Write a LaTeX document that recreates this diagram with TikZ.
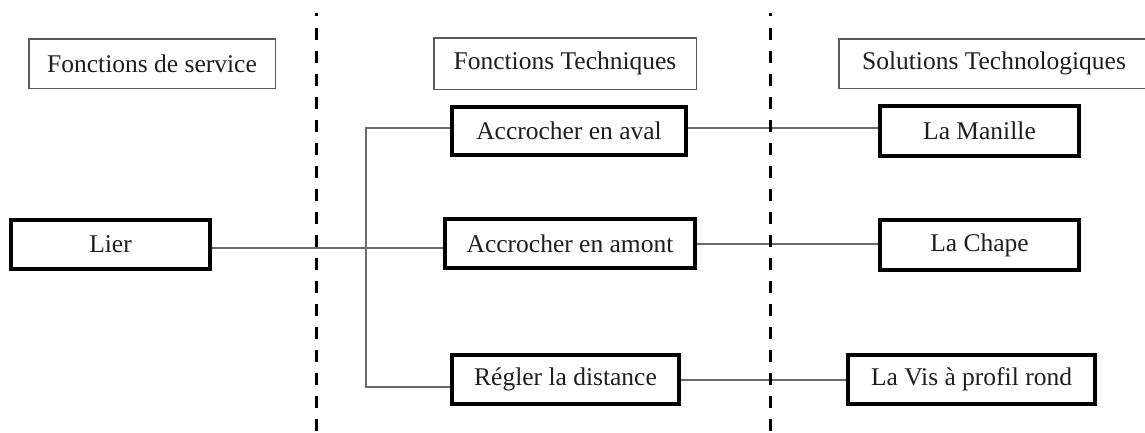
\documentclass[tikz,border=0pt]{standalone}
\usepackage{fontspec}
\setmainfont{Liberation Serif}
\definecolor{txt}{HTML}{1E1E1E}
\definecolor{thinc}{HTML}{5A5A5A}
\definecolor{conn}{HTML}{6A6A6A}
\tikzset{
  basebox/.style={rectangle, inner sep=0pt, fill=white, text=txt,
    font=\fontsize{25.5}{30}\selectfont},
  thinbox/.style={basebox, draw=thinc, line width=1.5pt, minimum height=49.5pt},
  thickbox/.style={basebox, draw=black, line width=4pt, minimum height=49pt},
  link/.style={draw=conn, line width=1.5pt},
  sep/.style={draw=black, line width=3pt, line cap=butt},
  sepdash/.style={sep, dash pattern=on 12pt off 11pt}
}
\begin{document}
\begin{tikzpicture}[x=1pt,y=-1pt]
\useasboundingbox (0,0) rectangle (1145,432);
\clip (0,0) rectangle (1145,432);
\fill[white] (0,0) rectangle (1145,432);

% separators
\coordinate (s1top) at (316,13);
\coordinate (s1dot) at (316,16);
\coordinate (s1a) at (316,28);
\coordinate (s1b) at (316,440);
\coordinate (s2top) at (770,13);
\coordinate (s2dot) at (770,16);
\coordinate (s2a) at (770,28);
\coordinate (s2b) at (770,440);

% header boxes
\node[thinbox, minimum width=246.5pt] (hserv) at (152,63.5) {Fonctions de service};
\node[thinbox, minimum width=262.5pt, minimum height=51.5pt] (htech) at (565,63.5) {Fonctions Techniques};
\node[thinbox, minimum width=310pt] (hsol) at (994,63.5) {Solutions Technologiques};

% function boxes
\node[thickbox, minimum width=199pt] (lier) at (110.5,244.5) {Lier};
\node[thickbox, minimum width=234pt, minimum height=48pt] (aval) at (569,131) {Accrocher en aval};
\node[thickbox, minimum width=250pt] (amont) at (570,243.5) {Accrocher en amont};
\node[thickbox, minimum width=227pt] (regler) at (565.5,379.5) {Régler la distance};
\node[thickbox, minimum width=199pt, minimum height=50pt] (manille) at (979.5,131) {La Manille};
\node[thickbox, minimum width=199pt, minimum height=50pt] (chape) at (979.5,245) {La Chape};
\node[thickbox, minimum width=247pt] (vis) at (971.5,379.5) {La Vis à profil rond};

% connector heights
\coordinate (yav) at (0,128);
\coordinate (yam) at (0,244);
\coordinate (yli) at (0,248);
\coordinate (yrl) at (0,387);
\coordinate (yrr) at (0,380);
\coordinate (spinetop) at (366,128);
\coordinate (spinebot) at (366,387);

% connectors
\draw[link] (lier.east |- yli) -- (amont.west |- yli);
\draw[link] (aval.west |- yav) -- (spinetop) -- (spinebot) -- (regler.west |- yrl);
\draw[link] (aval.east |- yav) -- (manille.west |- yav);
\draw[link] (amont.east |- yam) -- (chape.west |- yam);
\draw[link] (regler.east |- yrr) -- (vis.west |- yrr);

% separators on top
\draw[sep] (s1top) -- (s1dot);
\draw[sepdash] (s1a) -- (s1b);
\draw[sep] (s2top) -- (s2dot);
\draw[sepdash] (s2a) -- (s2b);
\end{tikzpicture}
\end{document}
